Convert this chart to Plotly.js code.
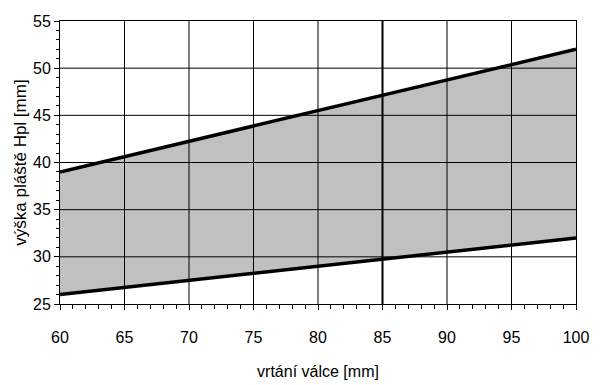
<!DOCTYPE html>
<html>
<head>
<meta charset="utf-8">
<script src="https://cdn.plot.ly/plotly-3.0.1.min.js"></script>
<style>html,body{margin:0;padding:0;background:#fff;}#chart{width:600px;height:385px;}</style>
</head>
<body>
<div id="chart"></div>
<script>
// Data
const bore = [60, 100];            // vrtání válce [mm]
const hMax = [39, 52];             // upper limit Hpl [mm]
const hMin = [26, 32];             // lower limit Hpl [mm]
const xTicks = [60, 65, 70, 75, 80, 85, 90, 95, 100];
const yTicks = [25, 30, 35, 40, 45, 50, 55];
const markBore = [85];             // highlighted bore

const font = 'Arial, "Liberation Sans", sans-serif';

const traces = [
  {x: bore, y: hMin, mode: 'lines', line: {color: '#000', width: 3.5}, hoverinfo: 'skip', showlegend: false},
  {x: bore, y: hMax, mode: 'lines', fill: 'tonexty', fillcolor: '#c0c0c0',
   line: {color: '#000', width: 3.5}, hoverinfo: 'skip', showlegend: false}
];

// grid drawn above the fill, as in the reference
const shapes = [];
xTicks.slice(1, -1).forEach(v => shapes.push({type: 'line', xref: 'x', yref: 'paper', x0: v, x1: v, y0: 0, y1: 1,
  layer: 'above', line: {color: '#000', width: markBore.includes(v) ? 2 : 1}}));
yTicks.slice(1, -1).forEach(v => shapes.push({type: 'line', xref: 'paper', yref: 'y', x0: 0, x1: 1, y0: v, y1: v,
  layer: 'above', line: {color: '#000', width: 1}}));

const layout = {
  width: 600, height: 385,
  margin: {l: 60, r: 24, t: 21, b: 81},
  paper_bgcolor: '#fff', plot_bgcolor: '#fff',
  font: {family: font, color: '#000', size: 16},
  showlegend: false,
  shapes: shapes,
  xaxis: {
    range: [60, 100], tickvals: xTicks, ticktext: xTicks.map(String),
    showgrid: false, zeroline: false,
    showline: true, linecolor: '#000', linewidth: 1, mirror: true,
    ticks: 'outside', ticklen: 5, tickcolor: '#000', tickwidth: 1,
    minor: {dtick: 1, ticks: 'outside', ticklen: 4, tickcolor: '#000', showgrid: false},
    tickfont: {size: 16, family: font},
    ticklabelstandoff: 14,
    title: {text: 'vrtání válce [mm]', font: {size: 16, family: font}, standoff: 20}
  },
  yaxis: {
    range: [25, 55], tickvals: yTicks, ticktext: yTicks.map(String),
    showgrid: false, zeroline: false,
    showline: true, linecolor: '#000', linewidth: 1, mirror: true,
    ticks: 'outside', ticklen: 5, tickcolor: '#000', tickwidth: 1,
    minor: {dtick: 1, ticks: 'outside', ticklen: 3, tickcolor: '#000', showgrid: false},
    tickfont: {size: 16, family: font},
    title: {text: 'výška pláště Hpl [mm]', font: {size: 17, family: font}, standoff: 2}
  }
};

Plotly.newPlot('chart', traces, layout, {displayModeBar: false, staticPlot: true});
</script>
</body>
</html>
